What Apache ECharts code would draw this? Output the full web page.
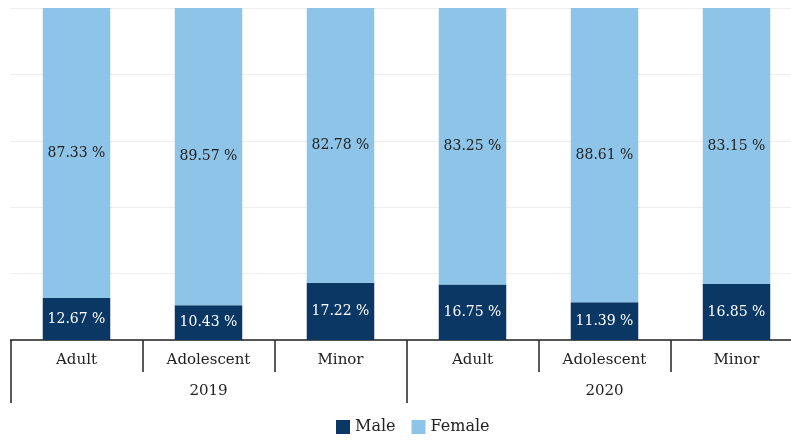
<!DOCTYPE html>
<html><head><meta charset="utf-8">
<script src="https://cdn.jsdelivr.net/npm/echarts@6/dist/echarts.min.js"></script>
<style>html,body{margin:0;padding:0;background:#fff}#c{width:791px;height:440px}</style>
</head><body><div id="c"></div>
<script>
const categories = ['Adult','Adolescent','Minor','Adult','Adolescent','Minor'];
const years = ['2019','2020'];
const male = [12.67, 10.43, 17.22, 16.75, 11.39, 16.85];
const female = [87.33, 89.57, 82.78, 83.25, 88.61, 83.15];

const FONT = 'DejaVu Serif';
const chart = echarts.init(document.getElementById('c'));
const fmt = p => p.value.toFixed(2) + ' %';
chart.setOption({
  animation: false,
  textStyle: {fontFamily: FONT},
  grid: {left: 10.5, width: 792, top: 8, height: 332, containLabel: false, outerBoundsMode: 'none'},
  legend: {
    data: ['Male','Female'], top: 414, left: 331,
    itemWidth: 14, itemHeight: 14, itemGap: 16, icon: 'rect',
    textStyle: {fontFamily: FONT, fontSize: 16, color: '#222'}
  },
  xAxis: [
    {type: 'category', data: categories, position: 'bottom',
     axisLine: {show: true, lineStyle: {color: '#222', width: 1.5}},
     axisTick: {show: true, alignWithLabel: false, length: 32, lineStyle: {color: '#222', width: 1.5}},
     axisLabel: {fontFamily: FONT, fontSize: 15, color: '#222', margin: 13}},
    {type: 'category', data: years, position: 'bottom', offset: 32,
     axisLine: {show: false},
     axisTick: {show: true, alignWithLabel: false, length: 31, lineStyle: {color: '#222', width: 1.5}},
     axisLabel: {fontFamily: FONT, fontSize: 15, color: '#222', margin: 12}}
  ],
  yAxis: {type: 'value', min: 0, max: 100, interval: 20,
    axisLabel: {show: false}, axisLine: {show: false}, axisTick: {show: false},
    splitLine: {lineStyle: {color: '#eeeeee'}}},
  series: [
    {name: 'Male', type: 'bar', stack: 's', data: male, barWidth: 67.5, xAxisIndex: 0,
     itemStyle: {color: '#0a3764'},
     label: {show: true, position: 'inside', formatter: fmt, color: '#fff', fontFamily: FONT, fontSize: 14}},
    {name: 'Female', type: 'bar', stack: 's', data: female, barWidth: 67.5, xAxisIndex: 0,
     itemStyle: {color: '#8ec4e8'},
     label: {show: true, position: 'inside', formatter: fmt, color: '#222', fontFamily: FONT, fontSize: 14}}
  ]
});
</script></body></html>
